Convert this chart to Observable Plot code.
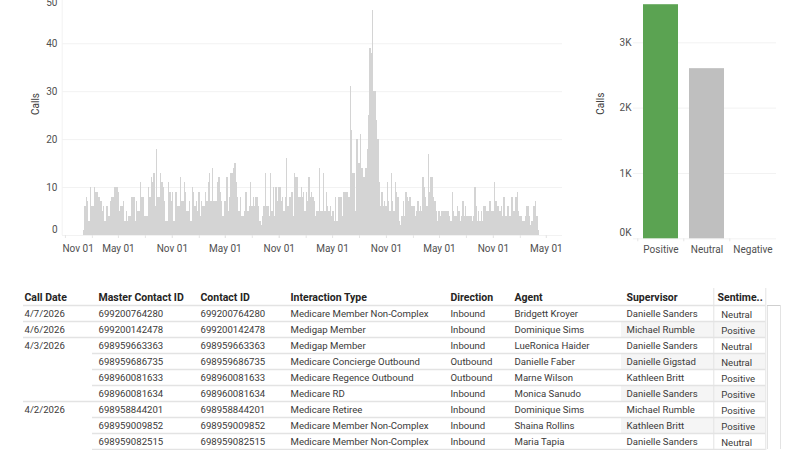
<!DOCTYPE html>
<html>
<head>
<meta charset="utf-8">
<script src="https://cdn.jsdelivr.net/npm/d3@7"></script>
<script src="https://cdn.jsdelivr.net/npm/@observablehq/plot@0.6"></script>
<style>
html,body{margin:0;padding:0;background:#fff;overflow:hidden}
#root{position:relative;width:800px;height:450px}
#root svg{position:absolute;overflow:hidden}
</style>
</head>
<body>
<div id="root"></div>
<script>
// Calls over time
const callsA = [1,6,8,7,3,10,6,6,10,9,9,8,8,7,5,6,3,6,6,4,7,8,8,10,10,10,9,5,6,6,7,3,5,3,4,4,8,8,8,3,7,5];
const callsB = [5,11,8,8,4,4,4,10,8,12,11,13,6,18,8,8,13,11,10,7,3,3,11,9,7,9,3,9,9,6,6,12,7,7,11,9,5,5,7,3,10,9,6,7,5,9,4,7,6,6,9,7,11,13,7,14,7,7,7,11,12];
const callsC = [9,7,4,7,7,12,5,8,13,13,14,15,11,8,5,8,4,4,5,9,9,5,6,11,6,8,6,8,8,6,3,2,4,6,13,6,6,4,13,5,10,4,10,7,10,10,7,8,5,8,16,6,8,8,9,4,13,12,12,8];
const callsD = [8,10,8,9,5,9,7,12,8,9,8,7,4,5,5,14,5,5,13,5,9,6,5,6,4,5,3,8,3,8,8,8,4,9,9,9,9,8];
const callsE = [31,22,13,13,5,20,15,15,21,14,12,12,14,18,25,39,38,47,30,30,24,20,11,6,9,6,7,6,11,7,5,13,7,5,11,9,8,3,2,4,7,4,9,8,7,8,6,6,6,4,5,7,5,6,5,12,10,8,6,17,9,12,12,8,7,5];
const callsF = [3,5,4,5,5,5,5,5,5,4,3,9,5,4,4,6,5,3,4,7,4,6,4,4,4,4,3,4,10,6,3,5,3,5,3,6,6,5,5,7,7,5,5,11,7,6,6,5,6,4,8,4,4,6,4,4,8,5,5,8,9,5,4,4,3,3,4,6,6,4,2,3,6,6,7,4,1];
const callCounts = [...callsA, ...callsB, ...callsC, ...callsD, ...callsE, ...callsF];
const firstCallDay = new Date(Date.UTC(2022, 0, 2));
const lastCallDay = new Date(Date.UTC(2026, 3, 8));
const timeDomain = [new Date(Date.UTC(2021, 9, 21)), new Date(Date.UTC(2026, 5, 24))];
const timeLabelTicks = [new Date(Date.UTC(2021, 10, 1))];
const firstTickDate = timeLabelTicks[0];
const halfYearTicks = d3.utcMonth.range(firstTickDate, new Date(Date.UTC(2026, 4, 2)), 6);
const quarterTicks = d3.utcMonth.range(firstTickDate, new Date(Date.UTC(2026, 4, 2)), 3);
const callTicksMid = [10, 20, 30, 40];

// Calls by sentiment
const sentiments = ["Positive", "Neutral", "Negative"];
const sentimentCalls = [3583, 2604, 0];
const sentimentColors = ["#5ba352", "#bfbfbf", "#bfbfbf"];
const sentimentTicksMid = [1000, 2000, 3000];

// Table
const columns = ["Call Date", "Master Contact ID", "Contact ID", "Interaction Type", "Direction", "Agent", "Supervisor", "Sentime.."];
const callDates = ["4/7/2026", "4/6/2026", "4/3/2026", "", "", "", "4/2/2026", "", ""];
const masterIds = ["699200764280", "699200142478", "698959663363", "698959686735", "698960081633", "698960081634", "698958844201", "698959009852", "698959082515"];
const contactIds = ["699200764280", "699200142478", "698959663363", "698959686735", "698960081633", "698960081634", "698958844201", "698959009852", "698959082515"];
const interactionTypes = ["Medicare Member Non-Complex", "Medigap Member", "Medigap Member", "Medicare Concierge Outbound", "Medicare Regence Outbound", "Medicare RD", "Medicare Retiree", "Medicare Member Non-Complex", "Medicare Member Non-Complex"];
const directions = ["Inbound", "Inbound", "Inbound", "Outbound", "Outbound", "Inbound", "Inbound", "Inbound", "Inbound"];
const agents = ["Bridgett Kroyer", "Dominique Sims", "LueRonica Haider", "Danielle Faber", "Marne Wilson", "Monica Sanudo", "Dominique Sims", "Shaina Rollins", "Maria Tapia"];
const supervisors = ["Danielle Sanders", "Michael Rumble", "Danielle Sanders", "Danielle Gigstad", "Kathleen Britt", "Danielle Sanders", "Michael Rumble", "Kathleen Britt", "Danielle Sanders"];
const sentimentValues = ["Neutral", "Positive", "Neutral", "Neutral", "Positive", "Positive", "Positive", "Positive", "Neutral"];
const columnValues = [callDates, masterIds, contactIds, interactionTypes, directions, agents, supervisors];

const font = "Roboto, 'Open Sans', sans-serif";
const axisGrey = "#505050";
const gridGrey = "#f2f2f2";
const tickGrey = "#e6e6e6";
const root = document.getElementById("root");
function place(svg, left, top) { svg.style.left = left + "px"; svg.style.top = top + "px"; root.appendChild(svg); }

// ---------- time chart ----------
const stepMs = (lastCallDay - firstCallDay) / callCounts.length;
const callBins = callCounts.map((calls, i) => ({
  start: new Date(+firstCallDay + i * stepMs),
  end: new Date(+firstCallDay + (i + 1) * stepMs),
  calls
}));
const timeChart = Plot.plot({
  width: 580, height: 265, marginLeft: 62, marginRight: 18, marginTop: 0, marginBottom: 30,
  style: {fontFamily: font, fontSize: "10px", color: axisGrey, background: "transparent"},
  x: {type: "utc", domain: timeDomain, range: [61.7, 561.7]},
  y: {domain: [0, 50], range: [235, -4.7]},
  marks: [
    Plot.ruleY(callTicksMid, {stroke: gridGrey}),
    Plot.ruleY([0], {stroke: gridGrey}),
    Plot.ruleX(timeDomain.slice(0, 1), {stroke: gridGrey}),
    Plot.rectY(callBins, {x1: "start", x2: "end", y: "calls", fill: "#d4d4d4", shapeRendering: "crispEdges"}),
    Plot.axisX(quarterTicks, {tickFormat: () => "", tickSize: 3, tickPadding: 0, stroke: tickGrey, label: null}),
    Plot.axisX(halfYearTicks.slice(1), {tickFormat: "%b %d", tickSize: 3, tickPadding: 6, stroke: tickGrey, label: null}),
    Plot.axisX(timeLabelTicks, {tickFormat: "%b %d", tickSize: 0, tickPadding: 9, dx: 12.7, label: null}),
    Plot.axisY(callTicksMid, {tickSize: 0, tickPadding: 5, label: null}),
    Plot.axisY([0], {tickSize: 0, tickPadding: 5, dy: -5.7, label: null}),
    Plot.axisY([50], {tickSize: 0, tickPadding: 5, dy: 7, label: null}),
    Plot.text(["Calls"], {frameAnchor: "left", rotate: -90, dx: -27, dy: -3, fill: "#404040"})
  ]
});
place(timeChart, 0, 0);

// ---------- sentiment chart ----------
const sentimentRows = sentiments.map((name, i) => ({name, calls: sentimentCalls[i], color: sentimentColors[i]}));
const sentimentChart = Plot.plot({
  width: 220, height: 265, marginLeft: 53, marginRight: 24, marginTop: 0, marginBottom: 26.7,
  style: {fontFamily: font, fontSize: "10px", color: axisGrey, background: "transparent"},
  x: {type: "band", domain: sentiments, range: [56.8, 196], paddingInner: 0.235, paddingOuter: 0.1175},
  y: {domain: [0, 3000], range: [238.3, 42.3]},
  marks: [
    Plot.ruleY(sentimentTicksMid, {stroke: gridGrey}),
    Plot.ruleY([0], {stroke: gridGrey}),
    Plot.barY(sentimentRows, {x: "name", y: "calls", fill: "color"}),
    Plot.axisX({tickSize: 3, tickFormat: () => "", dx: -23.2, stroke: tickGrey, label: null}),
    Plot.axisX({tickSize: 0, tickPadding: 7, label: null}),
    Plot.axisY(sentimentTicksMid, {tickSize: 0, tickPadding: 2, tickFormat: d => d / 1000 + "K", label: null}),
    Plot.axisY([0], {tickSize: 0, tickPadding: 2, dy: -5.6, tickFormat: d => d / 1000 + "K", label: null}),
    Plot.text(["Calls"], {frameAnchor: "left", rotate: -90, dx: -33, dy: -5, fill: "#404040"})
  ]
});
place(sentimentChart, 580, 0);

// ---------- table ----------
const rowKeys = ["header", "r0", "r1", "r2", "r3", "r4", "r5", "r6", "r7", "r8", "r9"];
const rowsShown = rowKeys.slice(1, 10);
const edgeKeys = ["tableLeft", "groupLeft", "shadeLeft", "sentimentRule", "tableRight", "scrollLeft", "scrollRight"];
const lineBelowRows = rowKeys.slice(0, 10);
const fullLineRows = ["header", "r0", "r1", "r5"];
const partLineRows = lineBelowRows.filter(r => !fullLineRows.includes(r));
const shadedRows = ["r1", "r3", "r5", "r7"];
const ruleColor = "#e3e3e3";
const textColor = "#3b3a39";
const tableChart = Plot.plot({
  width: 800, height: 165, marginLeft: 0, marginRight: 0, marginTop: 3, marginBottom: 0,
  style: {fontFamily: font, fontSize: "9.6px", background: "transparent"},
  x: {
    type: "ordinal", axis: null,
    domain: [...columns, ...edgeKeys, "sentimentCell"],
    range: [24, 98, 200, 290, 450, 514, 626, 717, 23, 92, 621, 713.3, 765.3, 767, 780, 720.7]
  },
  y: {type: "point", axis: null, padding: 0, domain: rowKeys, range: [11.7, 171.7]},
  marks: [
    Plot.ruleY(shadedRows, {y: d => d, x1: () => "shadeLeft", x2: () => "tableRight", stroke: "#f5f5f5", strokeWidth: 15}),
    Plot.ruleY(fullLineRows, {y: d => d, x1: () => "tableLeft", x2: () => "tableRight", dy: 8, stroke: ruleColor, strokeWidth: 1.4}),
    Plot.ruleY(partLineRows, {y: d => d, x1: () => "groupLeft", x2: () => "tableRight", dy: 8, stroke: ruleColor, strokeWidth: 1.4}),
    Plot.ruleX(["sentimentRule", "tableRight"], {x: d => d, stroke: ruleColor}),
    Plot.ruleX(["scrollLeft", "scrollRight"], {x: d => d, y1: () => "r0", y2: () => "r9", dy: -8, stroke: ruleColor}),
    Plot.ruleY(["r0"], {y: d => d, x1: () => "scrollLeft", x2: () => "scrollRight", dy: -8, stroke: "#cfcfcf"}),
    Plot.text(columns, {x: d => d, y: () => "header", text: d => d, textAnchor: "start", fontWeight: 700, fontSize: 10.5, fill: "#252423"}),
    ...columnValues.map((values, c) => Plot.text(values, {
      x: () => columns[c], y: (d, i) => rowsShown[i], text: d => d, textAnchor: "start", fill: textColor
    })),
    Plot.text(sentimentValues, {x: () => "sentimentCell", y: (d, i) => rowsShown[i], text: d => d, textAnchor: "start", dy: 1, fill: textColor})
  ]
});
place(tableChart, 0, 285);
</script>
</body>
</html>
